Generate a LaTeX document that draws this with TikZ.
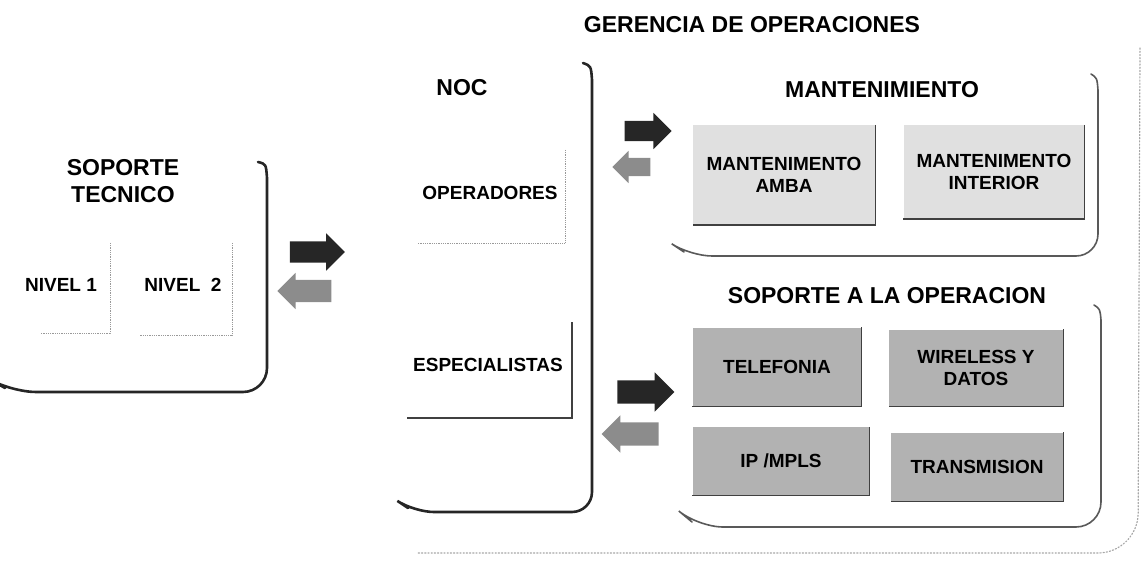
\documentclass[tikz,border=0pt]{standalone}
\usepackage{fontspec}
\setmainfont{Liberation Sans}
\usetikzlibrary{shapes.arrows}

\begin{document}
\begin{tikzpicture}[x=1pt,y=-1pt,
    title/.style={font=\fontsize{23}{27}\selectfont\bfseries, align=center, inner sep=0},
    lbl/.style={font=\fontsize{19}{22}\selectfont\bfseries, align=center, inner sep=0},
    unit/.style={lbl, fill=#1},
    panel/.style={line width=2.6pt, black!85, line cap=round},
    subpanel/.style={line width=1.6pt, black!65, line cap=round},
    outer/.style={line width=1.2pt, black!35, dotted, line cap=round},
    faint/.style={line width=0.8pt, black!40, densely dotted},
    boxedge/.style={line width=1.4pt, black!75},
    fwd/.style={single arrow, fill=black!85, inner xsep=0pt, inner ysep=#1, single arrow head extend=8pt},
    back/.style={single arrow, fill=black!45, inner xsep=0pt, inner ysep=#1, single arrow head extend=7pt, shape border rotate=180}]

    \useasboundingbox (0,0) rectangle (1144,564);

    % soporte tecnico
    \draw[panel] (258,162) .. controls (266,164) .. (267,178) [rounded corners=24pt] -- (267,392) -- (12,392) [sharp corners] -- (5,388);
    \draw[faint] (110,243) -- (110,333) -- (40,333);
    \draw[faint] (232,243) -- (232,335) -- (140,335);
    \node[title] (soporte) at (123,181) {SOPORTE\\TECNICO};
    \node[lbl] (nivel1) at (61,285) {NIVEL 1};
    \node[lbl] (nivel2) at (183,285) {NIVEL~ 2};

    \node[fwd=10.5pt, minimum height=55] (stout) at (312,252) {};
    \node[back=11pt, minimum height=54] (stin) at (310,291) {};

    % NOC
    \draw[panel] (583,63) .. controls (591,66) .. (592,80) [rounded corners=20pt] -- (592,512) -- (414,512) [sharp corners] -- (408,508);
    \draw[faint] (565,150) -- (565,243) -- (417,243);
    \draw[boxedge] (572,322) -- (572,418) -- (407,418);
    \node[title] (noc) at (462,88) {NOC};
    \node[lbl] (oper) at (490,193) {OPERADORES};
    \node[lbl] (espec) at (488,365) {ESPECIALISTAS};

    \node[fwd=10pt, minimum height=47] (mantout) at (643,131) {};
    \node[back=9pt, minimum height=38] (mantin) at (636,167) {};
    \node[fwd=11.5pt, minimum height=57] (salout) at (640,392) {};
    \node[back=11.5pt, minimum height=57] (salin) at (636,434) {};

    % gerencia
    \node[title] (gerencia) at (752,25) {GERENCIA DE OPERACIONES};
    \draw[outer, rounded corners=40pt] (1140,48) -- (1138,553) -- (417,553);

    % mantenimiento
    \draw[subpanel] (1091,74) .. controls (1097,78) .. (1098,90) [rounded corners=22pt] -- (1098,256) -- (690,256) [sharp corners] -- (684,252);
    \node[title] (mant) at (882,90) {MANTENIMIENTO};
    \node[unit=black!12, minimum width=182, minimum height=100] (amba) at (784,175) {MANTENIMENTO\\AMBA};
    \node[unit=black!12, minimum width=181, minimum height=94] (interior) at (994,172) {MANTENIMENTO\\INTERIOR};

    % soporte a la operacion
    \draw[subpanel] (1094,305) .. controls (1100,309) .. (1101,320) [rounded corners=25pt] -- (1101,527) -- (698,527) [sharp corners] -- (692,522);
    \node[title] (salo) at (887,296) {SOPORTE A LA OPERACION};
    \node[unit=black!30, minimum width=169, minimum height=79] (telefonia) at (777,367) {TELEFONIA};
    \node[unit=black!30, minimum width=177, minimum height=68] (ipmpls) at (781,461) {IP /MPLS};
    \node[unit=black!30, minimum width=174, minimum height=77] (wireless) at (976,368) {WIRELESS Y\\DATOS};
    \node[unit=black!30, minimum width=172, minimum height=69] (transmision) at (977,467) {TRANSMISION};

    \foreach \b in {amba,interior,telefonia,ipmpls,wireless,transmision}
        \draw[boxedge] (\b.north east) -- (\b.south east) -- (\b.south west);

\end{tikzpicture}
\end{document}
